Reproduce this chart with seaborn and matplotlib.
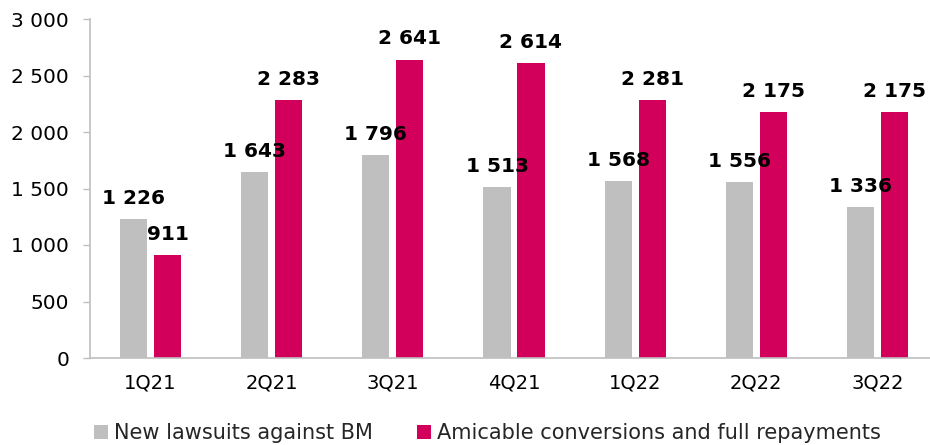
import matplotlib
matplotlib.use("Agg")
import matplotlib.pyplot as plt
import seaborn as sns
import pandas as pd
from matplotlib.patches import Patch

categories = ["1Q21", "2Q21", "3Q21", "4Q21", "1Q22", "2Q22", "3Q22"]
new_lawsuits = [1226, 1643, 1796, 1513, 1568, 1556, 1336]
amicable = [911, 2283, 2641, 2614, 2281, 2175, 2175]
series_names = ["New lawsuits against BM", "Amicable conversions and full repayments"]
colors = ["#BFBFBF", "#D2005A"]
yticks = [0, 500, 1000, 1500, 2000, 2500, 3000]

df = pd.DataFrame({
    "quarter": categories * 2,
    "value": new_lawsuits + amicable,
    "series": [series_names[0]] * len(categories) + [series_names[1]] * len(categories),
})

sns.set_theme(style="white")
plt.rcParams["font.family"] = ["DejaVu Sans"]

fig = plt.figure(figsize=(9.30, 4.45), dpi=100)
ax = fig.add_axes([90 / 930, 87 / 445, 848 / 930, 339 / 445])

sns.barplot(data=df, x="quarter", y="value", hue="series", palette=colors,
            width=0.56, gap=0.2, ax=ax, legend=False, saturation=1,
            edgecolor="none", linewidth=0)

def fmt(v):
    return f"{v:,}".replace(",", " ")

for cont in ax.containers:
    for bar in cont:
        h = bar.get_height()
        ax.annotate(fmt(int(round(h))), (bar.get_x() + bar.get_width() / 2, h),
                    xytext=(0, 8), textcoords="offset points", ha="center", va="bottom",
                    fontsize=14.5, fontweight="bold", color="black")

ax.set_xlim(-0.5, 6.5)
ax.set_ylim(0, 3000)
ax.set_yticks(yticks)
ax.set_yticklabels([fmt(t) for t in yticks], fontsize=14.5, color="black")
ax.tick_params(axis="x", labelsize=14, labelcolor="black", length=0, pad=11)
ax.tick_params(axis="y", length=5, width=1, color="#BFBFBF", direction="out", left=True, pad=10)
ax.set_xlabel("")
ax.set_ylabel("")
for s in ["top", "right"]:
    ax.spines[s].set_visible(False)
for s in ["left", "bottom"]:
    ax.spines[s].set_color("#BFBFBF")
    ax.spines[s].set_linewidth(1.2)

handles = [Patch(facecolor=c, edgecolor="none") for c in colors]
fig.legend(handles, series_names, loc="center", bbox_to_anchor=(0.524, 0.026), ncol=2,
           frameon=False, fontsize=15, handlelength=0.67, handleheight=0.67,
           handletextpad=0.3, columnspacing=2.1, borderpad=0, borderaxespad=0)

fig.savefig("out.png", dpi=100)
